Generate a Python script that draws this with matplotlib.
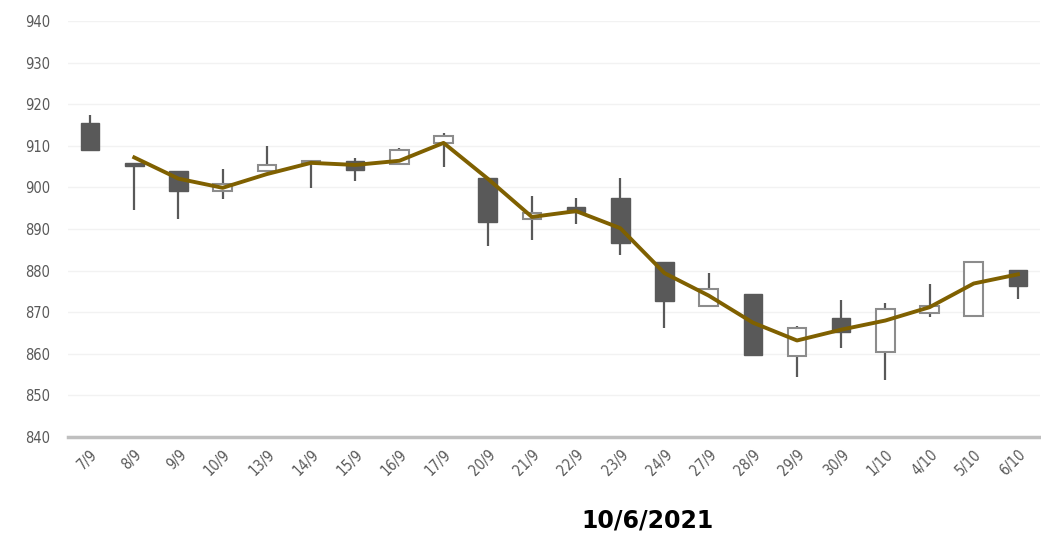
import numpy as np
import matplotlib
matplotlib.use('Agg')
import matplotlib.pyplot as plt
from matplotlib.patches import Rectangle

# daily OHLC
dates = ['7/9', '8/9', '9/9', '10/9', '13/9', '14/9', '15/9', '16/9', '17/9', '20/9', '21/9',
         '22/9', '23/9', '24/9', '27/9', '28/9', '29/9', '30/9', '1/10', '4/10', '5/10', '6/10']
opens = [915.5, 905.8, 904.0, 899.2, 904.0, 905.8, 906.4, 905.6, 910.6, 902.2, 892.5,
         895.2, 897.4, 882.0, 871.6, 874.3, 859.5, 868.6, 860.4, 869.8, 869.0, 880.2]
highs = [917.4, 905.8, 904.0, 904.4, 910.0, 906.5, 907.0, 909.4, 913.0, 902.2, 897.9,
         897.5, 902.2, 882.0, 879.4, 874.3, 866.8, 872.9, 872.1, 876.8, 882.0, 880.2]
lows = [909.0, 894.6, 892.4, 897.1, 903.8, 899.8, 901.5, 905.4, 904.8, 886.0, 887.3,
        891.2, 883.8, 866.1, 871.4, 859.6, 854.5, 861.4, 853.7, 868.8, 868.8, 873.1]
closes = [909.0, 905.2, 899.1, 900.8, 905.3, 906.4, 904.2, 909.1, 912.4, 891.8, 893.8,
          894.0, 886.6, 872.8, 875.5, 859.8, 866.3, 865.2, 870.7, 871.5, 882.0, 876.3]
# 2-day moving average line (starts on 8/9)
ma = [np.nan, 907.2, 902.1, 899.9, 903.2, 905.9, 905.4, 906.4, 910.7, 902.1, 892.9,
      894.3, 890.2, 879.4, 874.0, 867.5, 863.2, 865.8, 868.0, 871.2, 876.9, 879.1]

fig = plt.figure(figsize=(10.41, 5.34), dpi=100)
ax = fig.add_axes([68/1041, 1-437/534, 972/1041, 416/534])

x = np.arange(len(dates))
bw = 0.42
for i in x:
    o, h, l, c = opens[i], highs[i], lows[i], closes[i]
    ax.plot([i, i], [l, h], color='#595959', lw=1.6, zorder=2, solid_capstyle='butt')
    lo, hi = min(o, c), max(o, c)
    if c >= o:
        ax.add_patch(Rectangle((i - bw/2, lo), bw, hi - lo, facecolor='white',
                               edgecolor='#8c8c8c', lw=1.5, zorder=3))
    else:
        ax.add_patch(Rectangle((i - bw/2, lo), bw, hi - lo, facecolor='#595959',
                               edgecolor='#595959', lw=1.0, zorder=3))

ax.plot(x, ma, color='#7f6000', lw=2.8, zorder=4)

ax.set_xlim(-0.5, len(dates) - 0.5)
ax.set_ylim(840, 940)
ax.set_yticks(np.arange(840, 941, 10))
ax.grid(axis='y', color='#f2f2f2', lw=1.0, zorder=0)
ax.set_axisbelow(True)
for s in ['top', 'right', 'left']:
    ax.spines[s].set_visible(False)
ax.spines['bottom'].set_color('#bfbfbf')
ax.spines['bottom'].set_linewidth(2.5)
ax.tick_params(axis='both', length=0, colors='#595959', labelsize=10.5)
ax.tick_params(axis='y', pad=13)
ax.set_xticks(x)
ax.set_xticklabels(dates, rotation=45, ha='right', rotation_mode='anchor',
                   fontstretch='condensed')
ax.tick_params(axis='x', pad=7)
for t in ax.get_yticklabels():
    t.set_fontstretch('condensed')

fig.text(648/1041, 1-520/534, '10/6/2021', ha='center', va='center',
         fontsize=17, fontweight='bold', color='black')

fig.savefig('out.png', dpi=100, facecolor='white')
